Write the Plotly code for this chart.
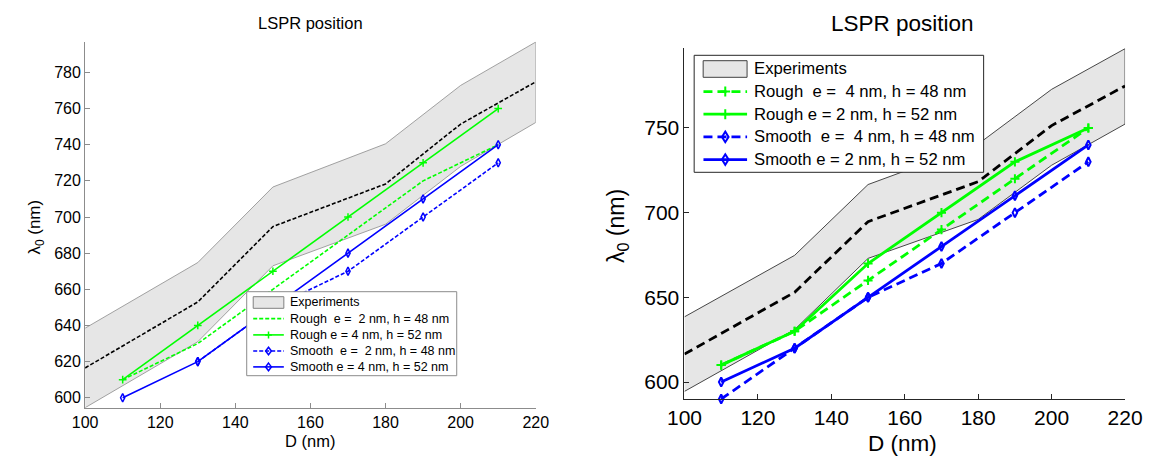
import plotly.graph_objects as go

# ---- experimental LSPR band (min / max / mean) ----
D_exp = [100, 130, 150, 180, 200, 220]
exp_upper = [638.5, 674.8, 716.6, 740.5, 772.8, 796.8]
exp_lower = [594.5, 631.0, 673.0, 696.0, 728.0, 752.3]
exp_mean = [616.5, 653.0, 694.7, 718.3, 751.4, 774.8]

# ---- simulated LSPR positions ----
D_sim = [110, 130, 150, 170, 190, 210]

# left panel
rough_e2_h48_a = [610, 630, 660, 690, 720, 740]
rough_e4_h52_a = [610, 640, 670, 700, 730, 760]
smooth_e2_h48_a = [None, 620, 650, 670, 700, 730]
smooth_e4_h52_a = [600, 620, 650, 680, 710, 740]

# right panel
rough_e4_h48_b = [610, 630, 660, 690, 720, 750]
rough_e2_h52_b = [610, 630, 670, 700, 730, 750]
smooth_e4_h48_b = [590, 620, 650, 670, 700, 730]
smooth_e2_h52_b = [600, 620, 650, 680, 710, 740]

labels_a = ["Experiments",
            "Rough\u00a0 e =\u00a0 2 nm, h = 48 nm",
            "Rough e = 4 nm, h = 52 nm",
            "Smooth\u00a0 e =\u00a0 2 nm, h = 48 nm",
            "Smooth e = 4 nm, h = 52 nm"]
labels_b = ["Experiments",
            "Rough\u00a0 e =\u00a0 4 nm, h = 48 nm",
            "Rough e = 2 nm, h = 52 nm",
            "Smooth\u00a0 e =\u00a0 4 nm, h = 48 nm",
            "Smooth e = 2 nm, h = 52 nm"]

x_ticks = [100, 120, 140, 160, 180, 200, 220]

W, H = 1166, 456
FONT = "Liberation Sans, Arial, sans-serif"
GREEN = "#00ff00"
BLUE = "#0000ff"
BAND = "#e6e6e6"

fig = go.Figure()


def add_panel(xa, ya, series, lw, dash, band_edge, band_w,
              cross_size, dia_size, mk_w, dashed_rough_marker):
    band_x = D_exp + D_exp[::-1]
    band_y = exp_upper + exp_lower[::-1]
    fig.add_trace(go.Scatter(
        x=band_x, y=band_y, fill="toself", fillcolor=BAND, mode="lines",
        line=dict(color=band_edge, width=band_w), xaxis=xa, yaxis=ya,
        hoverinfo="skip"))
    fig.add_trace(go.Scatter(
        x=D_exp, y=exp_mean, mode="lines",
        line=dict(color="black", width=lw, dash=dash), xaxis=xa, yaxis=ya))
    r_dash, r_solid, s_dash, s_solid = series
    cross = dict(symbol="cross-thin", size=cross_size,
                 line=dict(color=GREEN, width=mk_w), color=GREEN)
    dia = dict(symbol="diamond-tall-open", size=dia_size,
               line=dict(color=BLUE, width=mk_w), color=BLUE)
    fig.add_trace(go.Scatter(
        x=D_sim, y=r_dash,
        mode="lines+markers" if dashed_rough_marker else "lines",
        line=dict(color=GREEN, width=lw, dash=dash), marker=cross,
        xaxis=xa, yaxis=ya))
    fig.add_trace(go.Scatter(
        x=D_sim, y=r_solid, mode="lines+markers",
        line=dict(color=GREEN, width=lw), marker=cross, xaxis=xa, yaxis=ya))
    fig.add_trace(go.Scatter(
        x=D_sim, y=s_dash, mode="lines+markers", connectgaps=False,
        line=dict(color=BLUE, width=lw, dash=dash), marker=dia,
        xaxis=xa, yaxis=ya, cliponaxis=False))
    fig.add_trace(go.Scatter(
        x=D_sim, y=s_solid, mode="lines+markers",
        line=dict(color=BLUE, width=lw), marker=dia,
        xaxis=xa, yaxis=ya, cliponaxis=False))


add_panel("x", "y",
          (rough_e2_h48_a, rough_e4_h52_a, smooth_e2_h48_a, smooth_e4_h52_a),
          lw=1.6, dash="4px,2px", band_edge="#8c8c8c", band_w=0.8,
          cross_size=5.5, dia_size=6, mk_w=1.5, dashed_rough_marker=False)
add_panel("x2", "y2",
          (rough_e4_h48_b, rough_e2_h52_b, smooth_e4_h48_b, smooth_e2_h52_b),
          lw=2.8, dash="9px,5px", band_edge="#333333", band_w=0.9,
          cross_size=6.5, dia_size=6.5, mk_w=2, dashed_rough_marker=True)


def axis(domain, rng, tickvals, size, color, anchor):
    return dict(domain=domain, range=rng, tickvals=tickvals,
                showline=True, linecolor=color, linewidth=1,
                ticks="inside", ticklen=5, tickcolor=color, tickwidth=1,
                showgrid=False, zeroline=False, anchor=anchor,
                tickfont=dict(family=FONT, size=size, color="black"))


fig.update_layout(
    width=W, height=H,
    margin=dict(l=0, r=0, t=0, b=0),
    paper_bgcolor="white", plot_bgcolor="white",
    font=dict(family=FONT, color="black"),
    showlegend=False,
    xaxis=axis([0.0594, 0.4582], [100, 220], x_ticks, 16, "#8c8c8c", "y"),
    yaxis=axis([0.1059, 0.9086], [594.5, 797],
               [600, 620, 640, 660, 680, 700, 720, 740, 760, 780], 16, "#8c8c8c", "x"),
    xaxis2=axis([0.5898, 0.9797], [100, 220], x_ticks, 21, "#262626", "y2"),
    yaxis2=axis([0.125, 0.894], [590, 797], [600, 650, 700, 750], 21, "#262626", "x2"),
)


# ---- legend boxes (pixel layout converted to paper coordinates) ----
def px(x):
    return x / W


def py(y):
    return 1 - y / H


def legend_box(box, swatch, rows, sample_x, text_x, labels, font_size,
               frame_color, swatch_edge, lw, dash, cross_half, dia_half, mk_w,
               dashed_rough_marker):
    x0, y0, x1, y1 = box
    fig.add_shape(type="rect", xref="paper", yref="paper", layer="above",
                  x0=px(x0), x1=px(x1), y0=py(y1), y1=py(y0),
                  fillcolor="white", line=dict(color=frame_color, width=1))
    sx0, sy0, sx1, sy1 = swatch
    fig.add_shape(type="rect", xref="paper", yref="paper", layer="above",
                  x0=px(sx0), x1=px(sx1), y0=py(sy1), y1=py(sy0),
                  fillcolor=BAND, line=dict(color=swatch_edge, width=1))
    styles = [(GREEN, dash, "cross" if dashed_rough_marker else None),
              (GREEN, "solid", "cross"),
              (BLUE, dash, "diamond"),
              (BLUE, "solid", "diamond")]
    lx0, lx1 = sample_x
    mx = (lx0 + lx1) / 2
    for (color, d, mk), yr in zip(styles, rows[1:]):
        fig.add_shape(type="line", xref="paper", yref="paper", layer="above",
                      x0=px(lx0), x1=px(lx1), y0=py(yr), y1=py(yr),
                      line=dict(color=color, width=lw, dash=d))
        if mk == "cross":
            h = cross_half
            path = (f"M{px(mx - h)},{py(yr)} L{px(mx + h)},{py(yr)} "
                    f"M{px(mx)},{py(yr - h)} L{px(mx)},{py(yr + h)}")
            fig.add_shape(type="path", path=path, xref="paper", yref="paper",
                          layer="above", line=dict(color=color, width=mk_w))
        elif mk == "diamond":
            hw, hh = dia_half
            path = (f"M{px(mx)},{py(yr - hh)} L{px(mx + hw)},{py(yr)} "
                    f"L{px(mx)},{py(yr + hh)} L{px(mx - hw)},{py(yr)} Z")
            fig.add_shape(type="path", path=path, xref="paper", yref="paper",
                          layer="above", fillcolor="rgba(0,0,0,0)",
                          line=dict(color=color, width=mk_w))
    for label, yr in zip(labels, rows):
        fig.add_annotation(text=label, x=px(text_x), y=py(yr), xref="paper",
                           yref="paper", xanchor="left", yanchor="middle",
                           showarrow=False,
                           font=dict(family=FONT, size=font_size, color="black"))


legend_box(box=(236, 291.7, 452.7, 375.7), swatch=(242.7, 296.7, 274.3, 308.3),
           rows=[302.3, 318.6, 334.9, 351.0, 366.9], sample_x=(242.7, 274.3),
           text_x=278.5, labels=labels_a, font_size=12.5,
           frame_color="#8c8c8c", swatch_edge="#808080", lw=1.6, dash="4px,2px",
           cross_half=3.5, dia_half=(3.0, 3.8), mk_w=1.5, dashed_rough_marker=False)
legend_box(box=(697.7, 55.3, 996.4, 172.3), swatch=(707, 60.7, 752.3, 77.3),
           rows=[69.0, 91.6, 114.2, 136.9, 159.6], sample_x=(707.3, 752.3),
           text_x=757.0, labels=labels_b, font_size=16.7,
           frame_color="#262626", swatch_edge="#404040", lw=2.8, dash="9px,5px",
           cross_half=5.0, dia_half=(3.4, 5.3), mk_w=2, dashed_rough_marker=True)

# ---- titles and axis labels ----
annotations = [
    dict(text="LSPR position", x=0.2588, y=0.9487, size=16.5, angle=0),
    dict(text="LSPR position", x=0.783, y=0.949, size=22.5, angle=0),
    dict(text="D (nm)", x=0.2588, y=0.0333, size=16.5, angle=0),
    dict(text="D (nm)", x=0.783, y=0.0279, size=22.5, angle=0),
    dict(text="λ<sub>0</sub> (nm)", x=0.0159, y=0.503, size=17, angle=-90),
    dict(text="λ<sub>0</sub> (nm)", x=0.530, y=0.504, size=23, angle=-90),
]
for a in annotations:
    fig.add_annotation(text=a["text"], x=a["x"], y=a["y"], xref="paper", yref="paper",
                       xanchor="center", yanchor="middle", showarrow=False,
                       textangle=a["angle"],
                       font=dict(family=FONT, size=a["size"], color="black"))

fig.write_html("out.html")
